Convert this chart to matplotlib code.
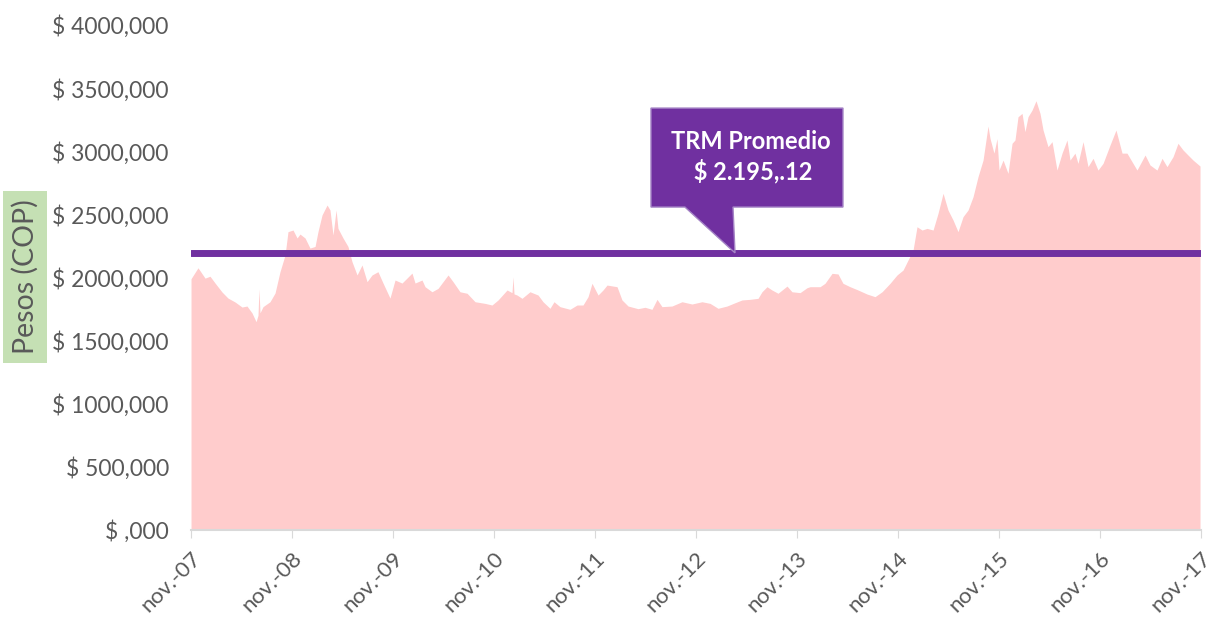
import matplotlib.pyplot as plt
from matplotlib.patches import Polygon

# Tiempo en años desde nov-07 y TRM en pesos
anios = [0.000, 0.069, 0.139, 0.188, 0.238, 0.307, 0.366, 0.436, 0.505, 0.554,
         0.604, 0.644, 0.663, 0.673, 0.683, 0.713, 0.782, 0.832, 0.881, 0.931,
         0.960, 1.010, 1.050, 1.079, 1.129, 1.178, 1.228, 1.257, 1.297, 1.347,
         1.376, 1.406, 1.436, 1.455, 1.505, 1.554, 1.594, 1.644, 1.693, 1.743,
         1.792, 1.851, 1.901, 1.970, 2.020, 2.089, 2.188, 2.218, 2.287, 2.317,
         2.386, 2.446, 2.545, 2.594, 2.663, 2.733, 2.812, 2.911, 2.980, 3.040,
         3.129, 3.178, 3.188, 3.198, 3.228, 3.277, 3.356, 3.436, 3.485, 3.554,
         3.594, 3.653, 3.752, 3.822, 3.881, 3.931, 3.970, 4.030, 4.079, 4.119,
         4.218, 4.267, 4.327, 4.426, 4.495, 4.564, 4.614, 4.663, 4.762, 4.861,
         4.960, 5.059, 5.139, 5.218, 5.307, 5.386, 5.455, 5.535, 5.614, 5.653,
         5.703, 5.752, 5.812, 5.901, 5.950, 6.030, 6.099, 6.129, 6.228, 6.277,
         6.347, 6.406, 6.455, 6.525, 6.604, 6.693, 6.772, 6.842, 6.921, 6.990,
         7.050, 7.099, 7.149, 7.188, 7.238, 7.287, 7.347, 7.396, 7.446, 7.495,
         7.545, 7.594, 7.644, 7.693, 7.743, 7.792, 7.842, 7.891, 7.911, 7.950,
         7.980, 8.000, 8.040, 8.089, 8.129, 8.158, 8.188, 8.228, 8.257, 8.287,
         8.327, 8.366, 8.406, 8.436, 8.485, 8.525, 8.574, 8.624, 8.673, 8.703,
         8.752, 8.782, 8.832, 8.881, 8.931, 8.980, 9.030, 9.099, 9.158, 9.218,
         9.267, 9.317, 9.366, 9.446, 9.495, 9.564, 9.614, 9.663, 9.723, 9.772,
         9.822, 9.871, 9.921, 9.990]
trm = [1990, 2077, 1995, 2010, 1956, 1885, 1837, 1806, 1766, 1774,
       1719, 1650, 1700, 1909, 1720, 1769, 1808, 1877, 2046, 2178,
       2363, 2376, 2313, 2344, 2313, 2233, 2246, 2363, 2495, 2574,
       2535, 2336, 2535, 2389, 2313, 2246, 2125, 2020, 2099, 1967,
       2020, 2046, 1956, 1837, 1980, 1956, 2035, 1956, 1980, 1927,
       1887, 1914, 2020, 1967, 1887, 1875, 1808, 1795, 1782, 1822,
       1901, 1880, 2006, 1870, 1861, 1835, 1887, 1861, 1808, 1756,
       1808, 1769, 1748, 1782, 1782, 1848, 1954, 1861, 1901, 1940,
       1927, 1822, 1774, 1753, 1764, 1748, 1827, 1769, 1774, 1808,
       1790, 1808, 1795, 1756, 1774, 1800, 1822, 1827, 1835, 1887,
       1927, 1901, 1875, 1932, 1887, 1880, 1919, 1927, 1927, 1954,
       2033, 2028, 1954, 1927, 1901, 1869, 1848, 1887, 1954, 2020,
       2059, 2138, 2218, 2402, 2376, 2389, 2376, 2508, 2667, 2534,
       2455, 2363, 2482, 2534, 2640, 2798, 2930, 3200, 3102, 2985,
       3100, 2851, 2930, 2825, 3063, 3089, 3273, 3300, 3155, 3273,
       3326, 3400, 3300, 3168, 3036, 3076, 2851, 2985, 3089, 2930,
       2985, 2904, 3076, 2878, 2944, 2851, 2904, 3049, 3168, 2985,
       2985, 2917, 2851, 2970, 2891, 2851, 2944, 2878, 2957, 3063,
       3010, 2970, 2930, 2883]

promedio = 2195.12
etiquetas_x = ['nov.-07', 'nov.-08', 'nov.-09', 'nov.-10', 'nov.-11', 'nov.-12',
               'nov.-13', 'nov.-14', 'nov.-15', 'nov.-16', 'nov.-17']
valores_y = [0, 500, 1000, 1500, 2000, 2500, 3000, 3500, 4000]
etiquetas_y = ['$ ,000', '$ 500,000', '$ 1000,000', '$ 1500,000', '$ 2000,000',
               '$ 2500,000', '$ 3000,000', '$ 3500,000', '$ 4000,000']

plt.rcParams['font.family'] = ['Lato', 'DejaVu Sans']
gris = '#595959'
morado = '#7030A0'

fig = plt.figure(figsize=(12.09, 6.25), dpi=100)
ax = fig.add_axes([0.158, 0.152, 0.8354, 0.808])

ax.fill_between(anios, trm, 0, color='#FFCCCC', linewidth=0)
ax.plot([0, 10], [promedio, promedio], color=morado, linewidth=5,
        solid_capstyle='round', zorder=3)

ax.set_xlim(0, 10)
ax.set_ylim(0, 4000)
ax.set_xticks(range(len(etiquetas_x)))
ax.set_xticklabels(etiquetas_x, rotation=45, ha='right', va='top',
                   rotation_mode='anchor', fontsize=16, color=gris)
ax.set_yticks(valores_y)
ax.set_yticklabels(etiquetas_y, fontsize=16.5, color=gris)
ax.tick_params(axis='y', length=0, pad=16)
ax.tick_params(axis='x', length=6, color='#D9D9D9', pad=7)
for lado in ['top', 'right', 'left']:
    ax.spines[lado].set_visible(False)
ax.spines['bottom'].set_color('#D9D9D9')
ax.spines['bottom'].set_linewidth(1.5)

# Etiqueta del eje Y con fondo verde
fig.text(0.021, 0.557, 'Pesos (COP)', rotation=90, ha='center', va='center',
         fontsize=20.5, color=gris,
         bbox=dict(boxstyle='square,pad=0.3', facecolor='#C5E0B4', edgecolor='none'))

# Globo con la TRM promedio
globo = Polygon([(4.554, 3342), (6.455, 3342), (6.455, 2558), (5.366, 2558),
                 (5.386, promedio), (4.89, 2558), (4.554, 2558)],
                closed=True, facecolor=morado, edgecolor='#A584C6', linewidth=1,
                zorder=4)
ax.add_patch(globo)
ax.text(5.54, 2955, 'TRM Promedio\n $ 2.195,.12', ha='center', va='center',
        fontsize=17, fontweight='bold', color='white', linespacing=1.3, zorder=5)

fig.savefig('out.png', dpi=100)
